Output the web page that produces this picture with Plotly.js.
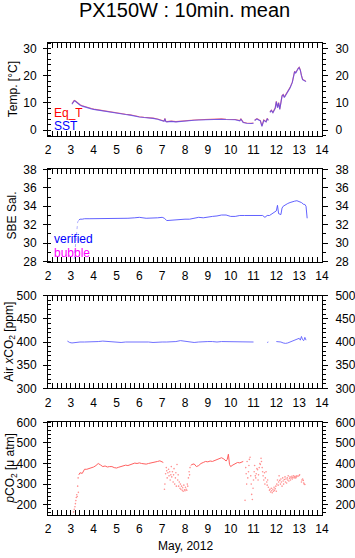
<!DOCTYPE html>
<html>
<head>
<meta charset="utf-8">
<script src="https://cdn.plot.ly/plotly-3.0.1.min.js"></script>
<style>html,body{margin:0;padding:0;background:#fff;}#chart{width:355px;height:558px;}</style>
</head>
<body>
<div id="chart"></div>
<script>
// ---------- DATA (day of May 2012) ----------
var tempTime = [3.05,3.1,3.15,3.2,3.3,3.4,3.5,3.6,3.7,3.8,3.9,4.0,4.2,4.4,4.6,4.8,5.0,5.2,5.4,5.6,5.8,6.0,6.2,6.4,6.6,6.8,7.0,7.08,7.12,7.16,7.2,7.4,7.6,7.8,8.0,8.2,8.4,8.6,8.8,9.0,9.2,9.4,9.6,9.8,10.0,10.2,10.4,10.45,10.55,10.7,10.9,11.0,null,11.05,11.15,11.25,11.3,11.37,11.45,11.55,11.6,11.65,null,11.72,11.78,11.85,11.95,12.0,12.05,12.1,12.15,12.25,12.3,12.35,12.45,12.55,12.6,12.7,12.75,12.8,12.85,12.9,12.95,13.0,13.05,13.1,13.15,13.2,13.25,13.3];
var sst = [9.5,10.2,10.8,10.6,9.8,9.2,8.8,8.5,8.3,8.0,7.8,7.6,7.3,7.1,6.9,6.5,6.2,6.0,5.7,5.5,5.1,4.8,4.6,4.5,4.3,4.0,3.3,3.2,4.2,3.1,3.0,3.2,3.0,3.2,3.4,3.4,3.6,3.7,3.8,3.9,3.9,4.0,4.0,3.9,3.8,3.8,3.4,4.0,2.8,2.5,2.4,2.5,null,3.5,4.1,3.6,3.4,1.4,3.6,3.0,4.2,3.5,null,6.5,7.2,6.4,8.0,10.5,8.2,10.0,7.6,12.5,13.0,12.0,13.5,14.5,15.5,17.5,20.0,21.5,21.0,22.0,22.5,23.0,22.0,20.0,18.5,18.3,18.0,17.8];
var eqT = [9.7,10.4,10.9,10.7,9.9,9.3,8.9,8.6,8.4,8.1,7.9,7.7,7.4,7.2,7.0,6.6,6.3,6.1,5.8,5.6,5.2,4.9,4.7,4.6,4.4,4.1,3.4,3.3,4.3,3.2,3.1,3.3,3.1,3.3,3.5,3.5,3.7,3.8,3.9,4.0,4.0,4.1,4.1,4.0,3.9,3.9,3.5,4.1,2.9,2.6,2.5,2.6,null,3.6,4.2,3.7,3.5,1.5,3.7,3.1,4.3,3.6,null,6.6,7.3,6.5,8.1,10.6,8.3,10.1,7.7,12.6,13.1,12.1,13.6,14.6,15.6,17.6,20.1,21.6,21.1,22.1,22.6,23.1,22.1,20.1,18.6,18.4,18.1,17.9];

var salRiseTime = [3.10,3.15,3.20,3.25,3.30,3.35];
var salRise = [27.0,28.5,30.0,31.5,32.3,32.5];
var salTime = [3.35,3.4,3.5,3.6,3.8,4.0,4.5,5.0,5.5,5.8,6.0,6.3,6.5,6.8,7.0,7.1,7.2,7.4,7.6,7.8,8.0,8.2,8.4,8.6,8.8,9.0,9.2,9.4,9.6,9.8,10.0,10.2,10.4,10.6,10.8,11.0,11.2,11.4,11.5,11.6,11.7,11.8,11.9,12.0,12.05,12.1,12.2,12.25,12.3,12.4,12.5,12.6,12.7,12.8,12.9,13.0,13.1,13.2,13.25,13.3,13.35];
var sal = [32.5,32.6,32.6,32.65,32.65,32.65,32.65,32.65,32.7,32.75,32.8,32.7,32.7,32.75,32.8,32.7,32.45,32.5,32.55,32.6,32.6,32.6,32.7,32.8,32.75,32.85,32.9,32.95,33.05,33.05,32.9,32.9,33.0,33.0,33.0,33.05,33.0,33.0,32.8,33.0,33.0,33.2,33.3,33.5,34.1,33.2,33.1,33.8,34.0,34.2,34.3,34.4,34.5,34.55,34.6,34.5,34.4,34.2,34.2,34.0,32.7];

var airTime = [2.85,2.95,3.05,3.2,3.4,3.6,3.8,4.0,4.2,4.4,4.6,4.8,5.0,5.2,5.4,5.6,5.8,6.0,6.2,6.4,6.6,6.8,7.0,7.2,7.4,7.6,7.8,8.0,8.2,8.4,8.6,8.8,9.0,9.2,9.4,9.6,9.8,10.0,10.2,10.4,10.6,10.8,11.0,null,11.6,11.65,null,12.0,12.1,12.2,12.3,12.4,12.5,12.6,12.7,12.8,12.9,13.0,13.05,13.1,13.15,13.2,13.25,13.3];
var airXCO2 = [402,399,398,399,400,400,400,401,401,402,401,400,400,399,400,400,401,401,400,400,399,400,400,400,400,401,403,402,400,399,400,401,401,401,400,401,401,401,401,401,400,400,400,null,399,400,null,401,401,400,398,397,398,400,401,404,406,408,404,412,405,403,410,404];

var pco2LineTime = [3.35,3.4,3.5,3.55,3.6,3.7,3.8,3.9,4.0,4.1,4.2,4.3,4.4,4.5,4.6,4.7,4.8,4.9,5.0,5.1,5.2,5.3,5.4,5.5,5.6,5.7,5.8,5.9,6.0,6.1,6.2,6.3,6.4,6.5,6.6,6.7,6.8,6.9,7.0,7.05,null,8.25,8.3,8.4,8.5,8.6,8.7,8.8,8.9,9.0,9.1,9.2,9.3,9.4,9.5,9.6,9.7,9.8,9.85,9.9,9.95,10.0,10.1,10.2,10.3,10.4,10.5,10.55];
var pco2Line = [345,355,352,365,372,372,375,378,383,390,400,393,385,388,383,385,385,380,378,382,385,390,392,390,395,400,402,400,403,400,398,397,400,402,403,405,410,413,408,405,null,390,395,398,385,390,400,405,410,408,412,410,415,418,425,428,422,412,420,445,395,385,393,398,405,403,408,410];
var pco2DotTime = [3.12,3.15,3.18,3.2,3.22,3.24,3.26,3.28,3.3,3.32,3.33,
  7.1,7.12,7.15,7.18,7.2,7.22,7.25,7.28,7.3,7.33,7.35,7.38,7.4,7.42,7.45,7.48,7.5,7.52,7.55,7.58,7.6,7.62,7.65,7.68,7.7,7.72,7.75,7.78,7.8,
  7.82,7.85,7.88,7.9,7.92,7.95,7.98,8.0,8.02,8.05,8.08,8.1,8.12,8.15,8.18,8.2,8.22,
  10.63,10.66,10.68,10.7,10.72,10.75,10.78,10.8,10.82,10.85,10.88,10.9,10.92,10.95,10.98,11.0,11.03,11.05,11.08,11.1,11.12,11.15,11.18,11.2,11.22,11.25,11.28,11.3,11.33,11.35,11.38,11.4,11.42,11.45,11.48,11.5,11.52,11.55,11.58,11.6,11.62,11.65,
  11.7,11.72,11.75,11.78,11.8,11.82,11.85,11.88,11.9,11.92,11.95,11.98,12.0,
  12.02,12.05,12.08,12.1,12.12,12.15,12.18,12.2,12.22,12.25,12.28,12.3,12.32,12.35,12.38,12.4,12.42,12.45,12.48,12.5,12.52,12.55,12.58,12.6,12.62,12.65,12.68,12.7,12.72,12.75,12.78,12.8,12.82,12.85,12.88,12.9,12.95,13.0,13.02,
  13.1,13.12,13.15,13.18,13.2,13.22,13.25];
var pco2Dot = [165,178,190,205,220,235,248,240,290,330,260,
  275,300,350,380,365,330,355,372,340,360,320,345,385,335,360,310,345,375,300,330,355,290,395,320,345,290,310,280,300,
  275,290,270,282,265,295,272,268,285,275,270,300,290,330,360,345,380,
  221,380,350,300,410,330,360,390,420,430,340,300,250,225,280,320,360,390,340,330,350,375,370,320,345,380,400,395,425,410,380,360,340,320,355,300,330,360,310,295,320,285,
  270,275,262,280,268,258,275,265,285,270,278,290,265,
  300,320,295,310,340,318,300,325,310,290,330,315,300,322,335,310,325,305,330,320,340,315,328,335,320,330,338,325,332,340,330,335,338,330,335,340,338,342,345,
  310,320,325,318,305,300,298];

// y-axis ranges, major and minor steps per panel
var yRanges = [[-2,32],[28,38],[300,500],[150,600]];
var yMajor = [10,2,50,100];
var yMinor = [2,1,10,20];
var yTitles = ['Temp. [°C]','SBE Sal.','Air <i>x</i>CO<sub>2</sub> [ppm]','<i>p</i>CO<sub>2</sub> [μ atm]'];

// ---------- LAYOUT ----------
var domains = [[0.804,1.0],[0.5367,0.7324],[0.2684,0.4646],[0,0.1964]];
var FF = 'Liberation Sans, Arial, sans-serif';
var tickFont = {family:FF, size:12, color:'#000'};
var layout = {
  width:355, height:558,
  margin:{l:48, r:33, t:43, b:43},
  paper_bgcolor:'#fff', plot_bgcolor:'#fff',
  showlegend:false,
  font:{family:FF, size:12, color:'#000'},
  title:{text:'PX150W : 10min. mean', x:0.52, xanchor:'center', y:0.982, yanchor:'middle',
         font:{family:FF, size:20, color:'#000'}},
  annotations:[]
};
for (var i=0;i<4;i++){
  var xs = i===0 ? '' : String(i+1);
  var ys = i===0 ? '' : String(i+1);
  var yr = String(i+5);
  layout['xaxis'+xs] = {
    domain:[0,1], anchor:'y'+ys, range:[2,14], tick0:2, dtick:1,
    ticks:'inside', ticklen:5, tickwidth:1, tickcolor:'#000',
    minor:{dtick:0.2, ticks:'inside', ticklen:3, tickwidth:1, tickcolor:'#000'},
    showline:true, linecolor:'#000', linewidth:1, mirror:'allticks',
    showgrid:false, zeroline:false, tickfont:tickFont, ticklabelstandoff:3
  };
  layout['yaxis'+ys] = {
    domain:domains[i], anchor:'x'+xs, range:yRanges[i], tick0:0, dtick:yMajor[i],
    ticks:'outside', ticklen:4, tickwidth:1, tickcolor:'#000',
    minor:{dtick:yMinor[i], tick0:0, ticks:'inside', ticklen:3, tickwidth:1, tickcolor:'#000'},
    showline:true, linecolor:'#000', linewidth:1, mirror:false,
    showgrid:false, zeroline:false, tickfont:tickFont, ticklabelstandoff:4
  };
  layout['yaxis'+yr] = {
    overlaying:'y'+ys, anchor:'x'+xs, side:'right', range:yRanges[i], tick0:0, dtick:yMajor[i],
    ticks:'outside', ticklen:5, tickwidth:1, tickcolor:'#000',
    minor:{dtick:yMinor[i], tick0:0, ticks:'outside', ticklen:3, tickwidth:1, tickcolor:'#000'},
    showline:true, linecolor:'#000', linewidth:1,
    showgrid:false, zeroline:false, tickfont:tickFont, ticklabelstandoff:5
  };
  var yc = (domains[i][0]+domains[i][1])/2;
  layout.annotations.push({text:yTitles[i], xref:'paper', yref:'paper', x:[-0.128,-0.128,-0.14,-0.135][i], y:yc,
    xanchor:'center', yanchor:'middle', textangle:-90, showarrow:false,
    font:{family:FF, size:12, color:'#000'}});
}
function leg(t, y, c){
  layout.annotations.push({text:t, xref:'paper', yref:'paper', x:0.013, y:y, xanchor:'left', yanchor:'middle',
    showarrow:false, font:{family:FF, size:12, color:c}});
}
leg('Eq_T',0.8517,'#ff0000');
leg('SST',0.8242,'#0000ff');
leg('verified',0.5847,'#0000ff');
leg('bubble',0.5544,'#ff00ff');
layout.annotations.push({text:'May, 2012', xref:'paper', yref:'paper', x:0.5, y:-0.0657,
  xanchor:'center', yanchor:'middle', showarrow:false,
  font:{family:FF, size:12, color:'#000'}});

// ---------- TRACES ----------
var traces = [
  {x:tempTime, y:eqT, xaxis:'x', yaxis:'y', mode:'lines', line:{color:'#ff5050', width:1.1}, opacity:0.8, connectgaps:false, hoverinfo:'skip'},
  {x:tempTime, y:sst, xaxis:'x', yaxis:'y', mode:'lines', line:{color:'#4040ff', width:1.1}, opacity:0.7, connectgaps:false, hoverinfo:'skip'},
  {x:salRiseTime, y:salRise, xaxis:'x2', yaxis:'y2', mode:'lines', line:{color:'#b0b0ff', width:1, dash:'dot'}, hoverinfo:'skip'},
  {x:salTime, y:sal, xaxis:'x2', yaxis:'y2', mode:'lines', line:{color:'#5050ff', width:0.9}, hoverinfo:'skip'},
  {x:airTime, y:airXCO2, xaxis:'x3', yaxis:'y3', mode:'lines', line:{color:'#6060ff', width:0.9}, connectgaps:false, hoverinfo:'skip'},
  {x:pco2LineTime, y:pco2Line, xaxis:'x4', yaxis:'y4', mode:'lines', line:{color:'#ff6060', width:1}, connectgaps:false, hoverinfo:'skip'},
  {x:pco2DotTime, y:pco2Dot, xaxis:'x4', yaxis:'y4', mode:'markers', marker:{color:'#ff9090', size:1.6, line:{width:0}}, hoverinfo:'skip'},
  {x:[], y:[], xaxis:'x', yaxis:'y5', mode:'markers', hoverinfo:'skip'},
  {x:[], y:[], xaxis:'x2', yaxis:'y6', mode:'markers', hoverinfo:'skip'},
  {x:[], y:[], xaxis:'x3', yaxis:'y7', mode:'markers', hoverinfo:'skip'},
  {x:[], y:[], xaxis:'x4', yaxis:'y8', mode:'markers', hoverinfo:'skip'}
];
Plotly.newPlot('chart', traces, layout, {staticPlot:true, displayModeBar:false});
</script>
</body>
</html>
